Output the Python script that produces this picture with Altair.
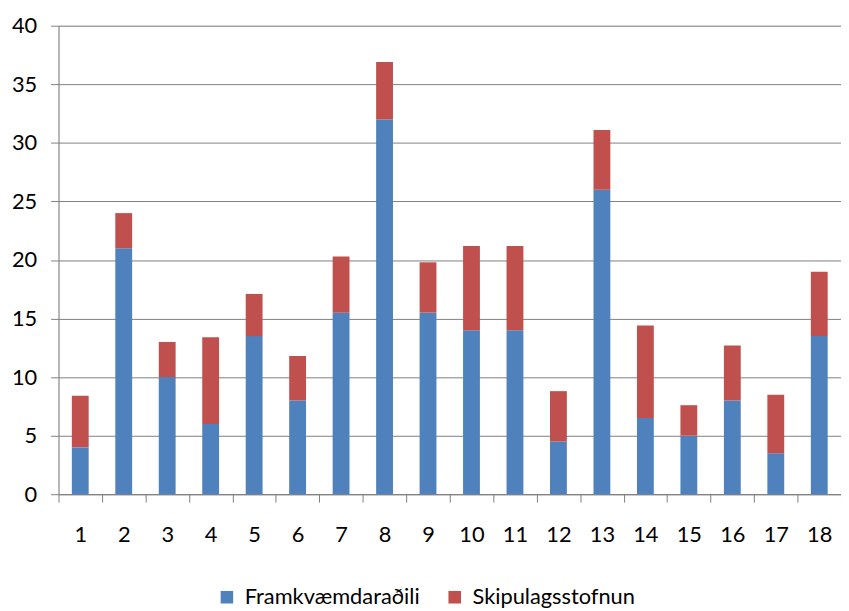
import altair as alt
import pandas as pd

categories = [str(i) for i in range(1, 19)]
framkvaemdaradili = [4, 21, 10, 6, 13.5, 8, 15.5, 32, 15.5, 14, 14, 4.5, 26, 6.5, 5, 8, 3.5, 13.5]
skipulagsstofnun = [4.4, 3, 3, 7.4, 3.6, 3.8, 4.8, 4.9, 4.3, 7.2, 7.2, 4.3, 5.1, 7.9, 2.6, 4.7, 5, 5.5]
series = ["Framkvæmdaraðili", "Skipulagsstofnun"]
colors = ["#4F81BD", "#C0504D"]

rows = []
for c, a, b in zip(categories, framkvaemdaradili, skipulagsstofnun):
    rows.append({"cat": c, "series": series[0], "value": a, "ord": 0})
    rows.append({"cat": c, "series": series[1], "value": b, "ord": 1})
df = pd.DataFrame(rows)

grey = "#808080"
font = "Lato"
fs = 22

chart = alt.Chart(df).mark_bar(size=17).encode(
    x=alt.X("cat:N", sort=categories, title=None,
            scale=alt.Scale(paddingInner=0, paddingOuter=0),
            axis=alt.Axis(labelAngle=0, tickBand="extent", tickSize=8, tickColor=grey,
                          domainColor=grey, labelPadding=23, labelFont=font,
                          labelFontSize=fs, labelColor="#000000", grid=False)),
    y=alt.Y("value:Q", stack="zero", title=None,
            scale=alt.Scale(domain=[0, 40], nice=False),
            axis=alt.Axis(values=list(range(0, 41, 5)), tickSize=8, tickColor=grey,
                          domainColor=grey, gridColor=grey, gridOpacity=1,
                          labelPadding=14, labelFont=font, labelFontSize=fs,
                          labelColor="#000000")),
    color=alt.Color("series:N", scale=alt.Scale(domain=series, range=colors),
                    legend=alt.Legend(title=None, orient="none", direction="horizontal",
                                      legendX=159, legendY=566, symbolType="square",
                                      symbolSize=160, symbolStrokeWidth=0,
                                      labelFont=font, labelFontSize=fs, labelLimit=400,
                                      labelColor="#000000", labelOffset=7,
                                      columnPadding=24, padding=0)),
    order=alt.Order("ord:Q", sort="ascending"),
).properties(
    width=790, height=473,
    autosize=alt.AutoSizeParams(type="none"),
    padding={"left": 51, "top": 15, "right": 0, "bottom": 113},
).configure_view(stroke=None).configure(background="white")

chart.save("out.html", embed_options={"renderer": "svg", "actions": False})
